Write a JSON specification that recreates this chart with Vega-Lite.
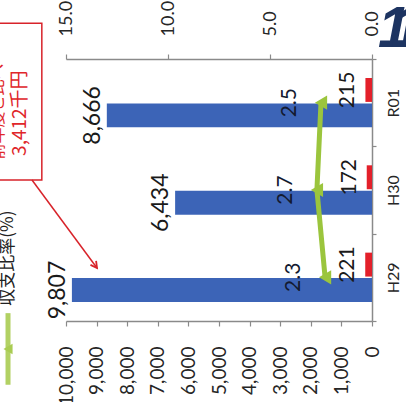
{
  "$schema": "https://vega.github.io/schema/vega-lite/v6.json",
  "width": 306,
  "height": 262,
  "autosize": {"type": "none"},
  "padding": {"left": 66, "top": 59, "right": 34, "bottom": 81},
  "background": "white",
  "config": {
    "view": {"stroke": null},
    "font": "Lato",
    "axis": {
      "grid": false,
      "title": null,
      "domainColor": "#8a8a8a",
      "tickColor": "#8a8a8a",
      "domainWidth": 1.5,
      "tickWidth": 1.2,
      "labelColor": "#262626",
      "labelFont": "Lato",
      "labelOverlap": false,
      "labelFlush": false
    }
  },
  "datasets": {
    "bars": [
      {"year": "H29", "series": "収入", "value": 9807},
      {"year": "H29", "series": "支出", "value": 221},
      {"year": "H30", "series": "収入", "value": 6434},
      {"year": "H30", "series": "支出", "value": 172},
      {"year": "R01", "series": "収入", "value": 8666},
      {"year": "R01", "series": "支出", "value": 215}
    ],
    "ratio": [
      {"year": "H29", "ratio": 2.3},
      {"year": "H30", "ratio": 2.7},
      {"year": "R01", "ratio": 2.5}
    ],
    "notes": [{"note": "annotation"}]
  },
  "layer": [
    {
      "data": {"name": "bars"},
      "encoding": {
        "y": {
          "field": "year",
          "type": "nominal",
          "scale": {"domain": ["R01", "H30", "H29"], "paddingInner": 0, "paddingOuter": 0},
          "axis": {
            "orient": "right",
            "labelAngle": 270,
            "labelAlign": "center",
            "labelBaseline": "middle",
            "labelFontSize": 16,
            "labelPadding": 17,
            "tickBand": "extent",
            "tickSize": 4
          }
        },
        "yOffset": {
          "field": "series",
          "type": "nominal",
          "scale": {"domain": ["支出", "収入"], "paddingInner": 0.06, "paddingOuter": 0.745}
        },
        "x": {
          "field": "value",
          "type": "quantitative",
          "scale": {"domain": [0, 10000], "reverse": true, "nice": false},
          "axis": {
            "orient": "bottom",
            "values": [0, 1000, 2000, 3000, 4000, 5000, 6000, 7000, 8000, 9000, 10000],
            "format": ",d",
            "labelAngle": 270,
            "labelAlign": "right",
            "labelBaseline": "middle",
            "labelFontSize": 19,
            "tickSize": 5,
            "labelPadding": 20
          }
        }
      },
      "layer": [
        {
          "mark": {"type": "bar"},
          "encoding": {
            "color": {
              "field": "series",
              "type": "nominal",
              "scale": {"domain": ["支出", "収入"], "range": ["#e3202a", "#3c64b7"]},
              "legend": null
            }
          }
        },
        {
          "transform": [{"filter": "datum.series == '収入'"}],
          "mark": {"type": "text", "angle": 270, "align": "center", "baseline": "bottom", "dy": -2, "fontSize": 23, "color": "#1a1a1a"},
          "encoding": {"text": {"field": "value", "type": "quantitative", "format": ",d"}}
        },
        {
          "transform": [{"filter": "datum.series == '支出'"}],
          "mark": {"type": "text", "angle": 270, "align": "center", "baseline": "bottom", "dy": -7, "fontSize": 21, "color": "#1a1a1a"},
          "encoding": {"text": {"field": "value", "type": "quantitative", "format": ",d"}}
        }
      ]
    },
    {
      "data": {"name": "ratio"},
      "encoding": {
        "y": {
          "field": "year",
          "type": "nominal",
          "scale": {"domain": ["R01", "H30", "H29"], "paddingInner": 0, "paddingOuter": 0},
          "axis": null
        },
        "x": {
          "field": "ratio",
          "type": "quantitative",
          "scale": {"domain": [0, 15], "reverse": true, "nice": false},
          "axis": {
            "orient": "top",
            "values": [0, 5, 10, 15],
            "format": ".1f",
            "labelAngle": 270,
            "labelAlign": "left",
            "labelBaseline": "middle",
            "labelFontSize": 18,
            "tickSize": 5,
            "labelPadding": 18
          }
        }
      },
      "layer": [
        {"mark": {"type": "line", "color": "#9bc53d", "strokeWidth": 5}},
        {"mark": {"type": "point", "shape": "triangle-left", "filled": true, "opacity": 1, "size": 200, "color": "#9bc53d"}},
        {
          "mark": {"type": "text", "angle": 270, "align": "center", "baseline": "bottom", "dy": -21, "fontSize": 21, "color": "#131a30"},
          "encoding": {"text": {"field": "ratio", "type": "quantitative", "format": ".1f"}}
        }
      ]
    },
    {
      "data": {"name": "notes"},
      "layer": [
        {
          "mark": {"type": "rect", "fill": "white", "stroke": "#d8232a", "strokeWidth": 1.5},
          "encoding": {
            "x": {"datum": 12600, "type": "quantitative", "scale": {"domain": [0, 10000], "reverse": true, "nice": false}, "axis": null},
            "x2": {"datum": 10790},
            "y": {"datum": 3.41, "type": "quantitative", "scale": {"domain": [0, 3], "nice": false, "zero": false}, "axis": null},
            "y2": {"datum": 1.615}
          }
        },
        {
          "mark": {"type": "text", "angle": 270, "align": "center", "baseline": "middle", "fontSize": 19, "font": "Noto Sans CJK JP", "color": "#e0262a", "text": "3,412千円"},
          "encoding": {
            "x": {"datum": 11503, "type": "quantitative"},
            "y": {"datum": 2.38, "type": "quantitative"}
          }
        },
        {
          "mark": {"type": "text", "angle": 270, "align": "center", "baseline": "middle", "fontSize": 16, "font": "Noto Sans CJK JP", "color": "#e0262a", "text": "前年度と比べ"},
          "encoding": {
            "x": {"datum": 12220, "type": "quantitative"},
            "y": {"datum": 2.4, "type": "quantitative"}
          }
        },
        {
          "mark": {"type": "rule", "color": "#d8232a", "strokeWidth": 1.5},
          "encoding": {
            "x": {"datum": 11111, "type": "quantitative"},
            "x2": {"datum": 8987},
            "y": {"datum": 1.615, "type": "quantitative"},
            "y2": {"datum": 0.607}
          }
        },
        {
          "mark": {"type": "point", "shape": "M -0.55 -1 L 0 0 L 0.55 -1", "filled": false, "stroke": "#d8232a", "strokeWidth": 1.8, "opacity": 1, "size": 160, "angle": -36},
          "encoding": {
            "x": {"datum": 8987, "type": "quantitative"},
            "y": {"datum": 0.607, "type": "quantitative"}
          }
        },
        {
          "mark": {"type": "text", "angle": 270, "align": "center", "baseline": "middle", "fontSize": 17, "font": "Noto Sans CJK JP", "color": "#222222", "text": "収支比率(%)"},
          "encoding": {
            "x": {"datum": 11895, "type": "quantitative"},
            "y": {"datum": 0.72, "type": "quantitative"}
          }
        },
        {
          "mark": {"type": "rule", "color": "#b2d163", "strokeWidth": 5},
          "encoding": {
            "x": {"datum": 11895, "type": "quantitative"},
            "y": {"datum": 0.09, "type": "quantitative"},
            "y2": {"datum": -0.73}
          }
        },
        {
          "mark": {"type": "point", "shape": "triangle-left", "filled": true, "opacity": 1, "size": 110, "color": "#a9cc52"},
          "encoding": {
            "x": {"datum": 11895, "type": "quantitative"},
            "y": {"datum": -0.32, "type": "quantitative"}
          }
        },
        {
          "mark": {"type": "text", "align": "left", "baseline": "alphabetic", "fontSize": 58, "fontStyle": "italic", "fontWeight": "bold", "font": "Liberation Sans", "color": "#1d3461", "text": "1"},
          "encoding": {
            "x": {"datum": -196, "type": "quantitative"},
            "y": {"datum": 3.137, "type": "quantitative"}
          }
        },
        {
          "mark": {"type": "text", "align": "left", "baseline": "alphabetic", "fontSize": 58, "fontStyle": "italic", "fontWeight": "bold", "font": "Liberation Sans", "color": "#1d3461", "text": "1"},
          "encoding": {
            "x": {"datum": -620, "type": "quantitative"},
            "y": {"datum": 3.137, "type": "quantitative"}
          }
        }
      ]
    }
  ],
  "resolve": {"scale": {"x": "independent", "y": "independent"}}
}
